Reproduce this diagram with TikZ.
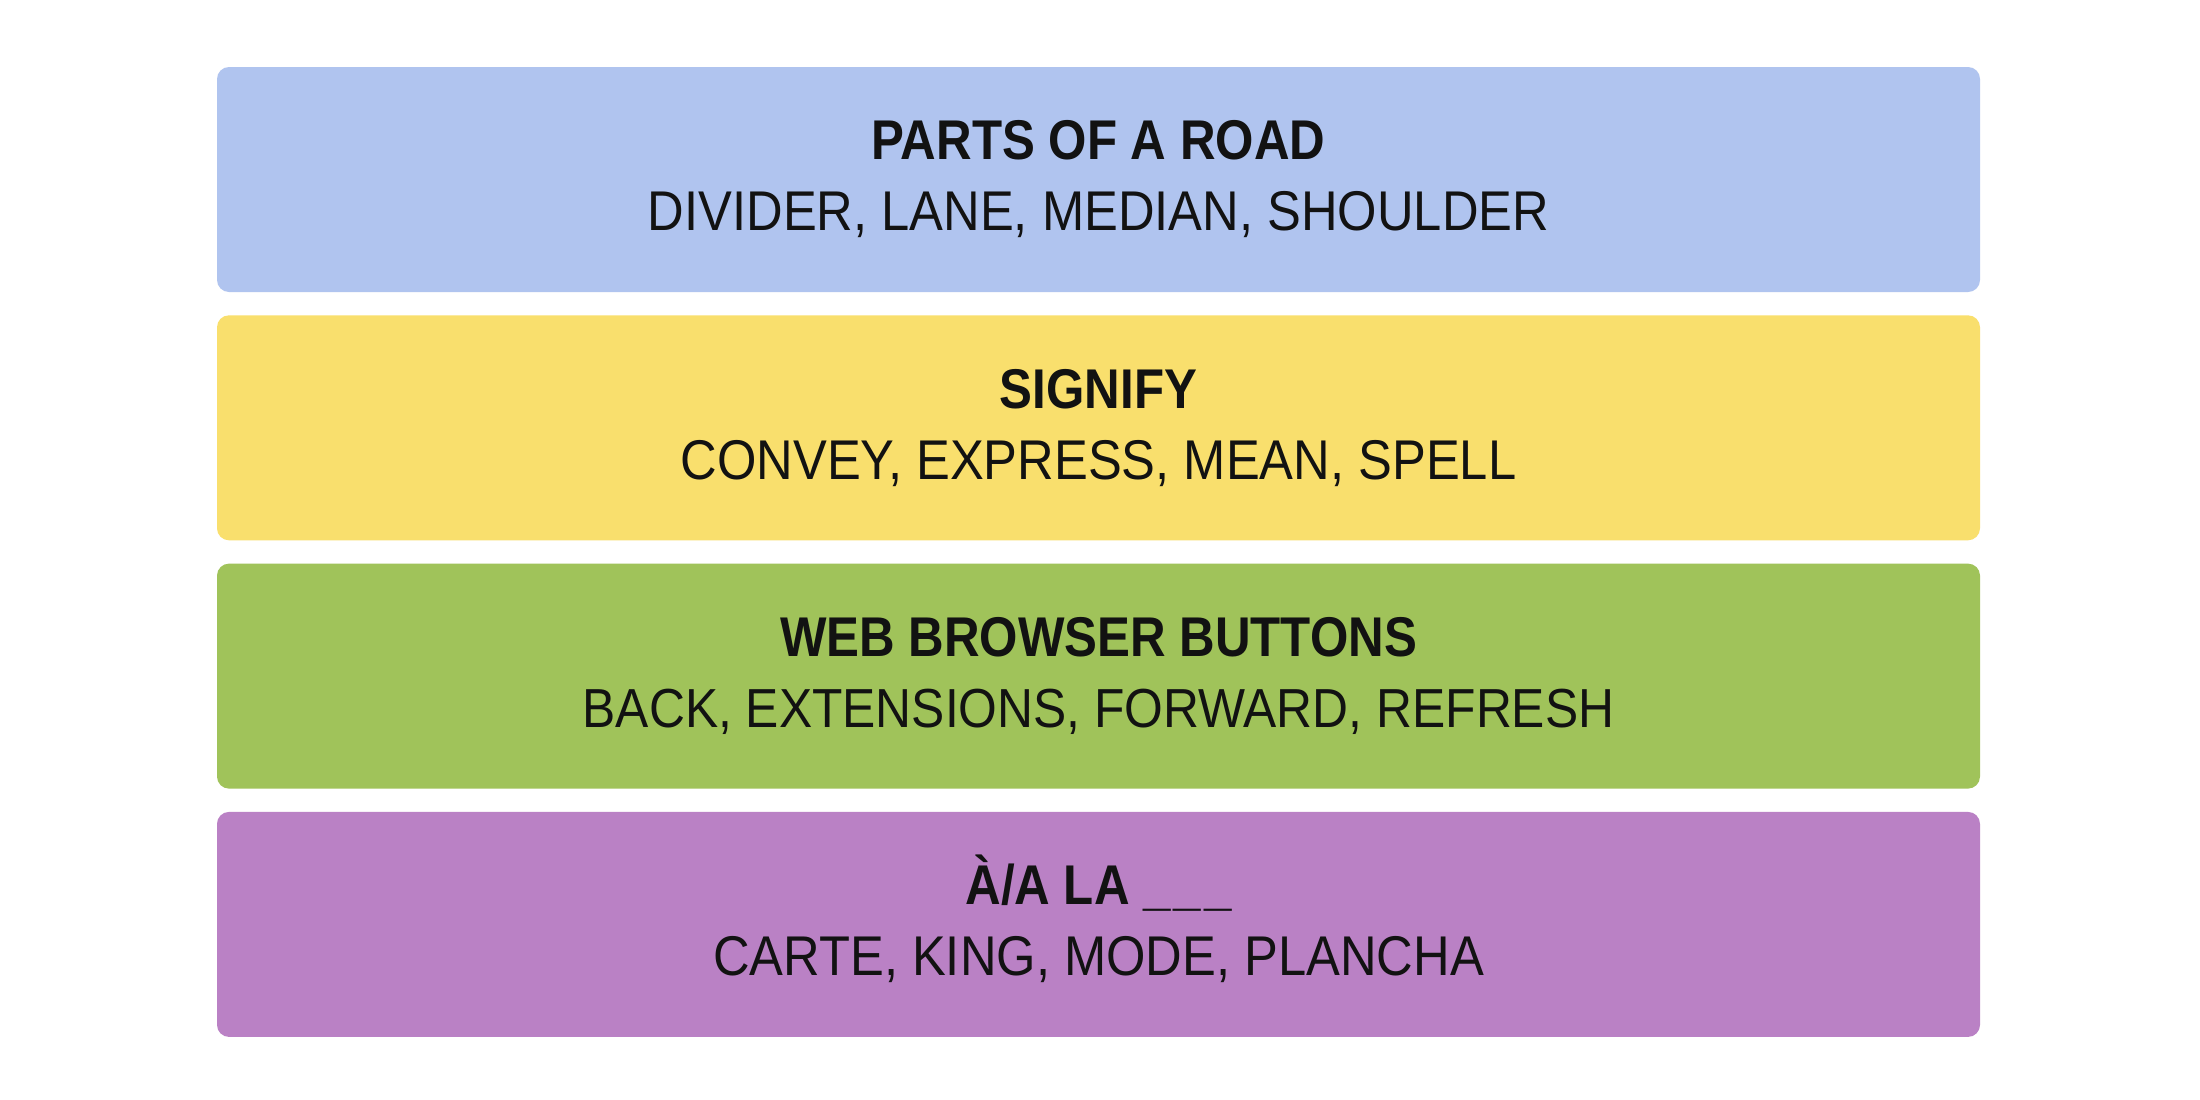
\documentclass[tikz,border=0pt]{standalone}
\usepackage{fontspec}
\setmainfont{Liberation Sans}
\newfontfamily\catregular[FakeStretch=0.905]{Liberation Sans}
\newfontfamily\catbold[FakeStretch=0.88,BoldFont={Liberation Sans Bold}]{Liberation Sans Bold}
\usetikzlibrary{calc}
\definecolor{cblue}{HTML}{B0C4EF}
\definecolor{cyellow}{HTML}{F9DF6D}
\definecolor{cgreen}{HTML}{A0C35A}
\definecolor{cpurple}{HTML}{BA81C5}
\definecolor{ink}{HTML}{121212}
\tikzset{
  catbox/.style={rectangle, rounded corners=12pt, draw=none, minimum width=1763pt, minimum height=225pt, inner sep=0pt},
  cattitle/.style={anchor=base, inner sep=0pt, text=ink, font=\catbold\fontsize{56}{60}\selectfont},
  catwords/.style={anchor=base, inner sep=0pt, text=ink, font=\catregular\fontsize{56}{60}\selectfont}
}
\begin{document}
\begin{tikzpicture}[x=1pt,y=-1pt]
\useasboundingbox[fill=white] (0,0) rectangle (2200,1100);
\node[catbox, fill=cblue]   (b1) at (1098.5,179.5) {};
\node[catbox, fill=cyellow] (b2) at (1098.5,427.8) {};
\node[catbox, fill=cgreen]  (b3) at (1098.5,676.1) {};
\node[catbox, fill=cpurple] (b4) at (1098.5,924.4) {};
\node[cattitle] (t1) at ($(b1.north)+(0,93)$) {PARTS OF A ROAD};
\node[catwords] (w1) at ($(b1.north)+(0,164)$) {DIVIDER, LANE, MEDIAN, SHOULDER};
\node[cattitle] (t2) at ($(b2.north)+(0,93)$) {SIGNIFY};
\node[catwords] (w2) at ($(b2.north)+(0,164)$) {CONVEY, EXPRESS, MEAN, SPELL};
\node[cattitle] (t3) at ($(b3.north)+(0,93)$) {WEB BROWSER BUTTONS};
\node[catwords, font=\catregular\fontsize{55}{60}\selectfont] (w3) at ($(b3.north)+(0,164)$) {BACK, EXTENSIONS, FORWARD, REFRESH};
\node[cattitle] (t4) at ($(b4.north)+(0,93)$) {À/A LA \_\kern3pt\_\kern3pt\_};
\node[catwords] (w4) at ($(b4.north)+(0,164)$) {CARTE, KING, MODE, PLANCHA};
\end{tikzpicture}
\end{document}
